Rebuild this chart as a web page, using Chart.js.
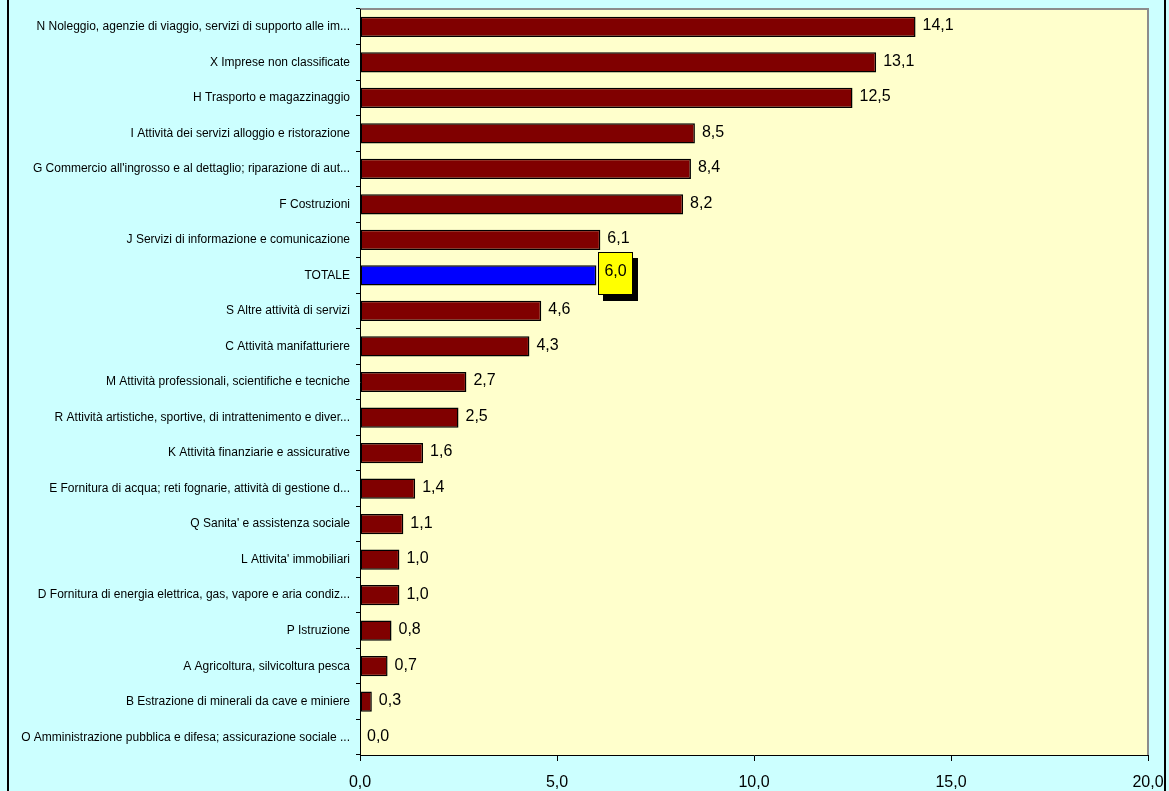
<!DOCTYPE html>
<html>
<head>
<meta charset="utf-8">
<script src="https://cdn.jsdelivr.net/npm/chart.js@4"></script>
<style>
    html, body { margin: 0; padding: 0; background: #CCFFFF; }
    #wrap { width: 1169px; height: 791px; position: relative; }
</style>
</head>
<body>
<div id="wrap"><canvas id="barChart" width="1169" height="791"></canvas></div>
<script>
const categories = [
    'N Noleggio, agenzie di viaggio, servizi di supporto alle im...',
    'X Imprese non classificate',
    'H Trasporto e magazzinaggio',
    'I Attività dei servizi alloggio e ristorazione',
    "G Commercio all'ingrosso e al dettaglio; riparazione di aut...",
    'F Costruzioni',
    'J Servizi di informazione e comunicazione',
    'TOTALE',
    'S Altre attività di servizi',
    'C Attività manifatturiere',
    'M Attività professionali, scientifiche e tecniche',
    'R Attività artistiche, sportive, di intrattenimento e diver...',
    'K Attività finanziarie e assicurative',
    'E Fornitura di acqua; reti fognarie, attività di gestione d...',
    "Q Sanita' e assistenza sociale",
    "L Attivita' immobiliari",
    'D Fornitura di energia elettrica, gas, vapore e aria condiz...',
    'P Istruzione',
    'A Agricoltura, silvicoltura pesca',
    'B Estrazione di minerali da cave e miniere',
    'O Amministrazione pubblica e difesa; assicurazione sociale ...'
];
const values = [14.1, 13.1, 12.5, 8.5, 8.4, 8.2, 6.1, 6.0, 4.6, 4.3, 2.7, 2.5, 1.6, 1.4, 1.1, 1.0, 1.0, 0.8, 0.7, 0.3, 0.0];
const xTicks = [0, 5, 10, 15, 20];
const totalLabel = 'TOTALE';

const fmt = v => v.toFixed(1).replace('.', ',');

// plot area fill + frame lines
const backdrop = {
    id: 'backdrop',
    beforeDraw(chart) {
        const ctx = chart.ctx, a = chart.chartArea;
        ctx.save();
        ctx.fillStyle = '#CCFFFF';
        ctx.fillRect(0, 0, chart.width, chart.height);
        ctx.fillStyle = '#FFFFCC';
        ctx.fillRect(a.left, a.top, a.right - a.left, a.bottom - a.top);
        ctx.strokeStyle = '#8C8C8C';
        ctx.lineWidth = 2;
        ctx.beginPath();
        ctx.moveTo(a.left, a.top);
        ctx.lineTo(a.right, a.top);
        ctx.lineTo(a.right, a.bottom);
        ctx.stroke();
        ctx.fillStyle = '#000';
        ctx.fillRect(7, 0, 2, chart.height);
        ctx.fillRect(1164, 0, 2, chart.height);
        ctx.restore();
    }
};

// value labels next to each bar
const valueLabels = {
    id: 'valueLabels',
    afterDatasetsDraw(chart) {
        const ctx = chart.ctx;
        const meta = chart.getDatasetMeta(0);
        ctx.save();
        ctx.font = '16px "Liberation Sans", Arial, sans-serif';
        ctx.textBaseline = 'middle';
        meta.data.forEach((bar, i) => {
            const txt = fmt(values[i]);
            const y = bar.y;
            if (categories[i] === totalLabel) {
                const bx = Math.round(bar.x) + 2, by = Math.round(y) - 23, bw = 35, bh = 43;
                ctx.fillStyle = '#000';
                ctx.fillRect(bx + 5, by + 6, bw, bh);
                ctx.fillStyle = '#FFFF00';
                ctx.fillRect(bx, by, bw, bh);
                ctx.strokeStyle = '#000';
                ctx.lineWidth = 1;
                ctx.strokeRect(bx + 0.5, by + 0.5, bw - 1, bh - 1);
                ctx.fillStyle = '#000';
                ctx.textAlign = 'center';
                ctx.fillText(txt, bx + bw / 2, y - 4);
                ctx.textAlign = 'left';
            } else {
                ctx.fillStyle = '#000';
                ctx.fillText(txt, bar.x + 7, y - 1);
            }
        });
        ctx.restore();
    }
};

new Chart(document.getElementById('barChart'), {
    type: 'bar',
    data: {
        labels: categories,
        datasets: [{
            data: values,
            backgroundColor: categories.map(c => c === totalLabel ? '#0000FF' : '#800000'),
            borderColor: '#000',
            borderWidth: 1.5,
            borderSkipped: false,
            categoryPercentage: 1,
            barPercentage: 0.57
        }]
    },
    options: {
        indexAxis: 'y',
        responsive: false,
        animation: false,
        layout: { padding: { top: 9, right: 21, left: 0, bottom: 0 } },
        plugins: {
            legend: { display: false },
            tooltip: { enabled: false }
        },
        scales: {
            x: {
                min: 0,
                max: 20,
                afterFit: s => { s.height = 36; s.paddingLeft = 0; s.paddingRight = 0; },
                afterBuildTicks: s => { s.ticks = xTicks.map(v => ({ value: v })); },
                grid: { drawOnChartArea: false, color: '#000', tickLength: 6 },
                border: { color: '#000', width: 1 },
                ticks: {
                    color: '#000',
                    padding: 12,
                    maxRotation: 0,
                    font: { family: '"Liberation Sans", Arial, sans-serif', size: 16 },
                    callback: v => fmt(v)
                }
            },
            y: {
                afterFit: s => { s.width = 360; s.paddingTop = 0; s.paddingBottom = 0; },
                grid: { drawOnChartArea: false, color: '#000', tickLength: 4, offset: true },
                border: { color: '#000', width: 1 },
                ticks: {
                    color: '#000',
                    padding: 6,
                    autoSkip: false,
                    font: { family: '"Liberation Sans", Arial, sans-serif', size: 12 }
                }
            }
        }
    },
    plugins: [backdrop, valueLabels]
});
</script>
</body>
</html>
